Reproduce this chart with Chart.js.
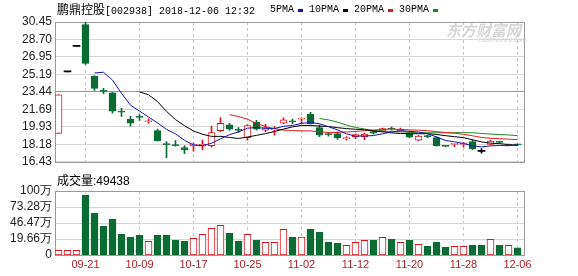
<!DOCTYPE html>
<html><head><meta charset="utf-8">
<script src="https://cdn.jsdelivr.net/npm/chart.js@4.4.0/dist/chart.umd.min.js"></script>
<style>
html,body{margin:0;padding:0;background:#fff;}
#wrap{position:relative;width:578px;height:276px;overflow:hidden;background:#fff;}
canvas{position:absolute;left:0;}
#cp{top:0;}
#cv{top:172px;}
.t{position:absolute;white-space:nowrap;color:#000;line-height:14px;}
.cjk{font-family:"Noto Sans CJK SC";font-size:12px;}
.mono{font-family:"Liberation Mono","DejaVu Sans Mono";font-size:10px;}
.sans{font-family:"Liberation Sans","Noto Sans CJK SC";font-size:12px;}
.dash{position:absolute;width:5px;height:3px;top:9px;}
</style></head><body>
<div id="wrap">
<canvas id="cp" width="578" height="172"></canvas>
<canvas id="cv" width="578" height="104"></canvas>
<div id="title" class="t" style="left:57px;top:2px;"></div>
<div id="legend"></div>
<div id="volLabel" class="t" style="left:57px;top:173px;"></div>
<div class="t" style="left:446px;top:22px;color:#d6d6d6;font-family:'Noto Sans CJK SC';font-size:15px;font-weight:bold;font-style:italic;line-height:16px;">东方财富网</div>
<div class="t" style="left:478px;top:36px;color:#d6d6d6;font-family:'Liberation Sans';font-size:7px;line-height:8px;">eastmoney.com</div>
</div>
<script>
const stockName = "鹏鼎控股";
const stockCode = "[002938] 2018-12-06 12:32";
const maLabels = ["5PMA","10PMA","20PMA","30PMA"];
const dates = ["09-18","09-19","09-20","09-21","09-25","09-26","09-27","09-28","10-08","10-09",
"10-10","10-11","10-12","10-15","10-16","10-17","10-18","10-19","10-22","10-23",
"10-24","10-25","10-26","10-29","10-30","10-31","11-01","11-02","11-05","11-06",
"11-07","11-08","11-09","11-12","11-13","11-14","11-15","11-16","11-19","11-20",
"11-21","11-22","11-23","11-26","11-27","11-28","11-29","11-30","12-03","12-04",
"12-05","12-06"];
const opens = [19.28,25.45,28.00,30.20,25.00,23.55,23.34,21.45,20.70,20.92,
20.45,19.55,18.25,18.08,17.85,18.05,18.00,18.05,19.55,20.15,
19.62,18.85,20.40,19.60,19.63,20.30,20.50,20.70,21.20,19.85,
19.20,19.27,18.75,18.95,18.95,19.45,19.50,19.75,19.55,19.30,
18.60,19.05,18.85,18.02,18.17,18.17,18.45,17.49,18.18,18.42,
18.10,18.15];
const highs = [23.14,25.45,28.00,30.45,25.05,23.80,23.40,21.80,21.00,21.16,
20.73,19.70,18.45,18.55,18.05,18.30,18.60,20.00,20.85,20.30,
19.86,20.15,20.60,20.20,19.95,20.85,20.71,20.85,21.40,20.10,
19.36,19.40,18.95,19.20,19.30,19.50,19.80,19.90,19.80,19.40,
19.05,19.10,18.95,18.05,18.25,18.39,18.60,17.75,18.60,18.50,
18.20,18.20];
const lows = [19.28,25.45,28.00,26.20,23.60,23.25,21.30,20.97,20.00,20.58,
20.31,18.50,16.85,18.00,17.25,17.50,17.65,17.90,19.45,19.60,
19.37,18.60,19.60,19.45,19.10,20.25,20.25,20.25,20.20,18.95,
19.00,18.68,18.60,18.75,18.65,19.20,19.45,19.60,19.50,18.85,
18.55,18.85,18.00,17.95,17.95,17.90,17.65,17.30,18.15,18.30,
18.05,18.05];
const closes = [23.14,25.45,28.00,26.30,23.80,23.50,21.50,21.40,20.30,20.88,
20.50,18.55,18.15,18.05,17.65,18.20,18.20,19.35,20.30,19.70,
19.58,20.05,19.70,19.85,19.68,20.65,20.45,20.80,20.25,19.10,
19.15,18.85,18.80,19.15,19.20,19.30,19.75,19.72,19.72,18.90,
19.00,18.92,18.05,17.98,18.20,18.22,17.72,17.48,18.52,18.38,
18.13,18.13];
// 5/10/20/30-day moving averages, first value at day 5/10/20/30
const ma5 = [25.34,25.41,24.62,23.30,22.10,21.52,20.92,20.33,19.68,19.23,
18.58,18.12,18.05,18.29,18.74,19.15,19.43,19.80,19.87,19.78,
19.77,19.99,20.07,20.29,20.37,20.25,19.95,19.63,19.23,19.01,
19.03,19.06,19.24,19.42,19.54,19.48,19.42,19.25,18.92,18.57,
18.43,18.27,18.03,17.92,18.03,18.06,18.04,18.13];
const ma10 = [23.43,23.16,22.47,21.49,20.66,20.05,19.52,19.19,18.98,18.98,
18.87,18.77,18.92,19.08,19.26,19.46,19.71,19.93,20.08,20.07,
20.01,19.97,19.85,19.76,19.69,19.64,19.51,19.44,19.33,19.27,
19.25,19.24,19.25,19.17,19.05,18.95,18.85,18.64,18.42,18.30,
18.25,18.16,18.08];
const ma20 = [21.15,20.97,20.70,20.28,19.96,19.75,19.61,19.56,19.53,19.53,
19.44,19.37,19.39,19.42,19.47,19.55,19.61,19.68,19.70,19.67,
19.63,19.60,19.55,19.46,19.37,19.30,19.18,19.04,18.87,18.79,
18.75,18.70,18.66];
const ma30 = [20.77,20.63,20.41,20.11,19.87,19.72,19.58,19.52,19.46,19.44,
19.38,19.33,19.34,19.34,19.33,19.35,19.35,19.34,19.27,19.21,
19.17,19.12,19.06];
// volume in 万 (10,000 shares)
const volumes = [0.73,0.73,0.73,92.9,62.7,41.0,53.2,27.5,23.0,25.9,
15.8,25.9,25.9,17.5,15.8,20.8,27.5,37.6,42.6,29.2,
15.8,27.5,17.5,14.1,14.1,35.9,23.0,23.0,35.9,30.9,
14.1,12.5,9.1,14.1,17.5,17.5,22.5,19.2,14.1,17.5,
10.8,7.4,14.1,5.8,7.4,7.4,9.1,9.1,19.2,9.1,
9.1,4.9438];
const priceTicks = [30.45,28.70,26.95,25.19,23.44,21.69,19.93,18.18,16.43];
const volTickValues = [-7.15,19.66,46.47,73.28,100.09];
const volTickLabels = ["0","19.66万","46.47万","73.28万","100万"];
const xTickDates = ["09-21","10-09","10-17","10-25","11-02","11-12","11-20","11-28","12-06"];

const RED = "#d8141c", GREEN = "#0a6b34", GRID = "#d6d6d6", FRAME = "#9a9a9a";
const maColors = ["#1414b4","#000000","#e21c1c","#1a8a1a"];
const maStart = [4,9,19,29];
const X_MIN = -0.3889, X_MAX = 51.8333;
const xTickIdx = xTickDates.map(d => dates.indexOf(d));
const flat = i => Math.abs(closes[i]-opens[i]) < 0.015;
const up = i => closes[i] > opens[i];
const cColor = i => flat(i) ? "#000" : (up(i) ? RED : GREEN);
const volUp = i => closes[i] >= opens[i];

// text
document.getElementById("title").innerHTML =
  '<span class="cjk">'+stockName+'</span><span class="mono">'+stockCode+'</span>';
const lg = document.getElementById("legend");
let lx = 270;
maLabels.forEach((l,k) => {
  const s = document.createElement("div");
  s.className = "t mono"; s.style.left = lx+"px"; s.style.top = "3px"; s.textContent = l;
  lg.appendChild(s);
  lx += 6*l.length + 4;
  const d = document.createElement("div");
  d.className = "dash"; d.style.left = lx+"px"; d.style.background = maColors[k];
  lg.appendChild(d);
  lx += 11;
});
document.getElementById("volLabel").innerHTML =
  '<span class="cjk">成交量</span><span class="sans">:'+Math.round(volumes[volumes.length-1]*10000)+'</span>';

const frame = {id:"frame", beforeDatasetsDraw(chart){
  const {ctx, chartArea:a} = chart;
  ctx.save(); ctx.strokeStyle = FRAME; ctx.lineWidth = 1;
  ctx.strokeRect(Math.round(a.left)+0.5, Math.round(a.top)+0.5,
                 Math.round(a.right-a.left)-1, Math.round(a.bottom-a.top));
  ctx.restore();
}};

const xCommon = (showTicks) => ({
  type:"linear", min:X_MIN, max:X_MAX, offset:false,
  afterBuildTicks: s => { s.ticks = xTickIdx.map(v => ({value:v})); },
  ticks:{display:showTicks, autoSkip:false, maxRotation:0, padding:3,
         color:"#b0202a", font:{family:"Liberation Sans", size:11},
         callback: v => dates[v]},
  grid:{color:"#c4c4c4", drawTicks:false, offset:false},
  border:{display:false, dash:[3,3]},
  afterFit: s => { s.height = showTicks ? 21 : 0; }
});

const maSets = [ma5,ma10,ma20,ma30].map((arr,k) => ({
  type:"line", label:maLabels[k],
  data: arr.map((v,j) => ({x:maStart[k]+j, y:v})),
  borderColor:maColors[k], borderWidth:1, pointRadius:0, tension:0, order:0
}));

new Chart(document.getElementById("cp"), {
  type:"bar",
  data:{datasets:[
    ...maSets,
    {type:"bar", data: dates.map((d,i)=>({x:i, y:[opens[i], closes[i]]})),
     backgroundColor: c => flat(c.dataIndex) ? "#000" : (up(c.dataIndex) ? "#fff" : GREEN),
     borderColor: c => cColor(c.dataIndex),
     borderWidth: c => flat(c.dataIndex) ? 0 : 1,
     borderSkipped:false, barThickness:7, minBarLength:1, grouped:false, order:1},
    {type:"bar", data: dates.map((d,i)=>({x:i, y:[lows[i], highs[i]]})),
     backgroundColor: c => cColor(c.dataIndex), borderWidth:0,
     barThickness:1, grouped:false, order:2}
  ]},
  options:{
    responsive:false, animation:false,
    layout:{padding:{top:22, right:53, bottom:7, left:0}},
    plugins:{legend:{display:false}, tooltip:{enabled:false}},
    scales:{
      x: xCommon(false),
      y:{min:16.43, max:30.45,
         afterBuildTicks: s => { s.ticks = priceTicks.map(v => ({value:v})); },
         ticks:{autoSkip:false, padding:3, color:"#222", font:{family:"Liberation Sans", size:12},
                callback: v => Number(v).toFixed(2)},
         grid:{drawTicks:false, color: c => (c.tick && Math.abs(c.tick.value-23.44) < 0.01) ? "#9a9a9a" : GRID},
         border:{display:false},
         afterFit: s => { s.width = 55; }}
    }
  },
  plugins:[frame]
});

new Chart(document.getElementById("cv"), {
  type:"bar",
  data:{datasets:[
    {data: dates.map((d,i)=>({x:i, y:[volTickValues[0], volumes[i]]})),
     backgroundColor: c => volUp(c.dataIndex) ? "#fff" : GREEN,
     borderColor: c => volUp(c.dataIndex) ? RED : GREEN,
     borderWidth:1, borderSkipped:false, barThickness:7, grouped:false}
  ]},
  options:{
    responsive:false, animation:false,
    layout:{padding:{top:19, right:53, bottom:0, left:0}},
    plugins:{legend:{display:false}, tooltip:{enabled:false}},
    scales:{
      x: xCommon(true),
      y:{min:volTickValues[0], max:volTickValues[volTickValues.length-1],
         afterBuildTicks: s => { s.ticks = volTickValues.map(v => ({value:v})); },
         ticks:{autoSkip:false, padding:3, color:"#222", font:{family:"Liberation Sans", size:12},
                callback: (v,idx) => volTickLabels[idx]},
         grid:{drawTicks:false, color:GRID},
         border:{display:false},
         afterFit: s => { s.width = 55; }}
    }
  },
  plugins:[frame]
});
</script>
</body></html>
